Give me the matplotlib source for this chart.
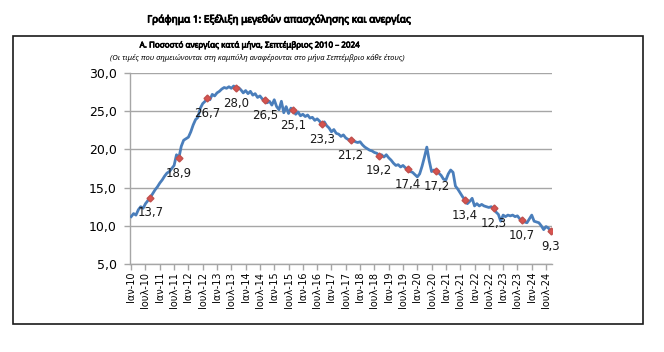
import matplotlib
matplotlib.use("Agg")
import matplotlib.pyplot as plt
import matplotlib.patches as mpatches
import matplotlib.patheffects as pe

# monthly unemployment rate (%), Jan 2010 - Sep 2024
y2010 = [11.2, 11.6, 11.4, 12.1, 12.5, 12.3, 12.9, 13.3, 13.7, 14.2, 14.7, 15.1]
y2011 = [15.6, 16.0, 16.5, 16.9, 17.1, 17.5, 17.9, 19.3, 18.9, 20.4, 21.2, 21.4]
y2012 = [21.6, 22.3, 23.2, 23.9, 24.2, 25.4, 26.0, 26.3, 26.7, 26.5, 27.2, 27.0]
y2013 = [27.4, 27.6, 27.9, 28.1, 28.0, 28.2, 28.0, 28.3, 28.0, 28.1, 27.8, 27.4]
y2014 = [27.7, 27.3, 27.6, 27.1, 27.3, 26.8, 27.0, 26.6, 26.5, 26.1, 26.3, 25.8]
y2015 = [26.5, 25.6, 25.2, 26.3, 24.8, 25.6, 24.7, 25.4, 25.1, 24.6, 24.9, 24.4]
y2016 = [24.6, 24.3, 24.5, 24.1, 24.2, 23.8, 24.0, 23.7, 23.3, 23.6, 23.1, 22.8]
y2017 = [22.3, 22.6, 22.1, 22.0, 21.7, 21.9, 21.5, 21.3, 21.2, 21.2, 21.0, 20.9]
y2018 = [21.0, 20.6, 20.3, 20.1, 19.9, 19.8, 19.6, 19.5, 19.2, 19.3, 19.0, 19.3]
y2019 = [18.9, 18.6, 18.2, 17.9, 18.0, 17.7, 17.9, 17.6, 17.4, 17.1, 17.0, 16.7]
y2020 = [16.4, 16.8, 17.8, 19.0, 20.3, 18.5, 17.1, 17.3, 17.2, 16.9, 16.6, 16.1]
y2021 = [16.0, 16.8, 17.3, 17.0, 15.2, 14.8, 14.3, 13.8, 13.4, 12.9, 13.2, 13.6]
y2022 = [12.6, 12.9, 12.6, 12.8, 12.6, 12.5, 12.4, 12.5, 12.3, 11.8, 11.5, 10.6]
y2023 = [11.4, 11.2, 11.4, 11.3, 11.4, 11.2, 11.3, 10.9, 10.7, 10.5, 10.4, 10.9]
y2024 = [11.4, 10.6, 10.5, 10.4, 10.0, 9.5, 9.9, 9.7, 9.3]

rate = (y2010 + y2011 + y2012 + y2013 + y2014 + y2015 + y2016 + y2017
        + y2018 + y2019 + y2020 + y2021 + y2022 + y2023 + y2024)
years = list(range(2010, 2025))

# x tick labels, every six months
tick_labels = []
for yr in years:
    tick_labels.append(f"Ιαν-{yr % 100:02d}")
    tick_labels.append(f"Ιουλ-{yr % 100:02d}")

fig = plt.figure(figsize=(6.64, 3.52), dpi=100)
ax = fig.add_axes([130 / 664, 88 / 352, 422 / 664, 191 / 352])

x = list(range(len(rate)))
ax.plot(x, rate, color='#4a7ebb', linewidth=2.0, zorder=3)

# September markers and labels
sept_idx = [12 * i + 8 for i in range(len(years))]
sept_val = [rate[i] for i in sept_idx]
ax.plot(sept_idx, sept_val, linestyle='none', marker='D', markersize=3.5,
        color='#d9534f', markeredgecolor='#c0504d', zorder=4)
for i, v in zip(sept_idx, sept_val):
    ax.annotate(f"{v:.1f}".replace('.', ','), (i, v), xytext=(0, -11),
                textcoords='offset points', ha='center', va='center',
                fontsize=8.5, color='#1a1a1a')

ax.set_xlim(-0.5, len(rate) - 0.5)
ax.set_ylim(5, 30)
ax.set_yticks([5, 10, 15, 20, 25, 30])
ax.set_yticklabels([f"{v:.1f}".replace('.', ',') for v in [5, 10, 15, 20, 25, 30]],
                   fontsize=9)
ax.set_xticks(list(range(0, len(tick_labels) * 6, 6))[:len(tick_labels)])
ax.set_xticklabels(tick_labels, rotation=90, fontsize=7)

ax.grid(axis='y', color='#a6a6a6', linewidth=1.0)
ax.set_axisbelow(True)
for side in ['top', 'right']:
    ax.spines[side].set_visible(False)
for side in ['left', 'bottom']:
    ax.spines[side].set_color('#a6a6a6')
    ax.spines[side].set_linewidth(1.0)
ax.tick_params(axis='both', color='#a6a6a6', length=4, width=1.0)
ax.tick_params(axis='y', pad=5.5)
ax.tick_params(axis='x', pad=1.5)

# outer frame
fig.patches.append(mpatches.Rectangle((13 / 664, 28 / 352), 630 / 664, 288 / 352,
                                      transform=fig.transFigure, fill=False,
                                      edgecolor='#1a1a1a', linewidth=1.2))

title_font = ['Liberation Sans Narrow', 'Noto Sans', 'DejaVu Sans']
bold_fx = [pe.withStroke(linewidth=0.6, foreground='black')]
fig.text(279 / 664, 1 - 20 / 352, "Γράφημα 1: Εξέλιξη μεγεθών απασχόλησης και ανεργίας",
         ha='center', va='center', fontsize=7.2, family=title_font,
         path_effects=bold_fx)
fig.text(250 / 664, 1 - 45 / 352, "Α. Ποσοστό ανεργίας κατά μήνα, Σεπτέμβριος 2010 – 2024",
         ha='center', va='center', fontsize=5.8, family=title_font,
         path_effects=[pe.withStroke(linewidth=0.5, foreground='black')])
fig.text(257 / 664, 1 - 58 / 352,
         "(Οι τιμές που σημειώνονται στη καμπύλη αναφέρονται στο μήνα Σεπτέμβριο κάθε έτους)",
         ha='center', va='center', fontsize=5.5, style='italic', family=title_font)

plt.savefig('out.png', dpi=100)
